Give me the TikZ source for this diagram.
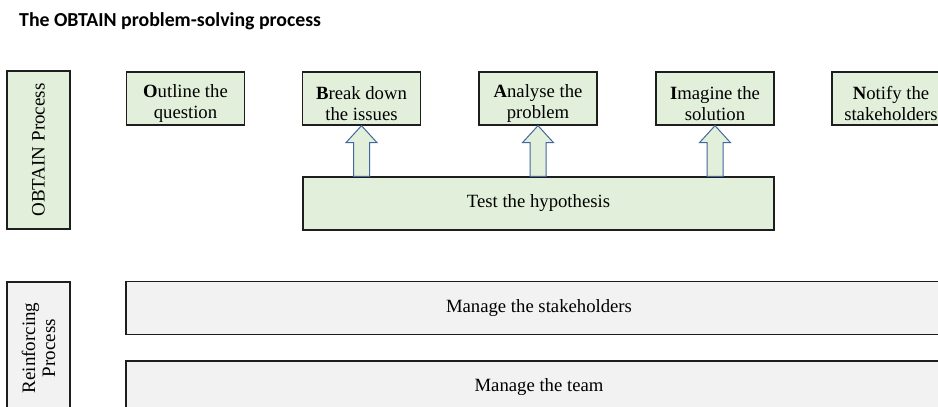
\documentclass[tikz,border=0pt]{standalone}
\usepackage{fontspec}
\setmainfont{Liberation Serif}
\newfontfamily\titlefont{Carlito}
\usetikzlibrary{calc}
\definecolor{stepgreen}{HTML}{E2EFDA}
\definecolor{supportgray}{HTML}{F2F2F2}
\definecolor{arrowblue}{HTML}{41689E}
\definecolor{edgegray}{HTML}{1E1E1E}
\tikzset{
  boxbase/.style={draw=edgegray, line width=1.3pt, inner sep=0pt},
  stepbox/.style={boxbase, fill=stepgreen, minimum width=118pt, minimum height=53pt},
  sidebox/.style={boxbase, minimum width=63pt},
  widebox/.style={boxbase, fill=supportgray, minimum width=826pt, minimum height=53pt},
  boxtext/.style={align=center, inner sep=0pt, font=\fontsize{18.7}{21}\selectfont},
  sidetext/.style={align=center, inner sep=0pt, rotate=90, font=\fontsize{19}{20}\selectfont},
  blockarr/.style={draw=arrowblue, line width=1pt, fill=stepgreen, line join=miter}
}
% upward block arrow from the hypothesis bar to the bottom of a step box
\newcommand{\uparrowto}[1]{%
  \draw[blockarr] let \p1=(#1.south), \p2=(test.north) in
    (\x1-8pt,\y2) -- (\x1-8pt,\y1-17pt) -- (\x1-15.5pt,\y1-17pt) -- (\x1,\y1)
    -- (\x1+15.5pt,\y1-17pt) -- (\x1+8pt,\y1-17pt) -- (\x1+8pt,\y2) -- cycle;}
\begin{document}
\begin{tikzpicture}[x=1pt,y=-1pt]
  \clip (0,0) rectangle (938,407);
  \fill[white] (0,0) rectangle (938,407);

  % title
  \node[anchor=base west, inner sep=0pt, font=\titlefont\bfseries\fontsize{19.8}{22}\selectfont]
    (title) at (19,26) {The OBTAIN problem-solving process};

  % OBTAIN process row
  \node[sidebox, fill=stepgreen, minimum height=158pt] (obtain) at (38.5,150) {};
  \node[sidetext] (obtain-t) at (obtain.center) {OBTAIN Process};

  \node[stepbox] (outline) at (185.5,98.5) {};
  \node[boxtext] (outline-t) at ([yshift=-5.5pt]outline.center) {\textbf{O}utline the\\question};
  \node[stepbox] (break) at (361.5,98.5) {};
  \node[boxtext] (break-t) at ([yshift=-5.5pt]break.center) {\textbf{B}reak down\\the issues};
  \node[stepbox] (analyse) at (538,98.5) {};
  \node[boxtext] (analyse-t) at ([yshift=-5.5pt]analyse.center) {\textbf{A}nalyse the\\problem};
  \node[stepbox] (imagine) at (715,98.5) {};
  \node[boxtext] (imagine-t) at ([yshift=-5.5pt]imagine.center) {\textbf{I}magine the\\solution};
  \node[stepbox] (notify) at (891,98.5) {};
  \node[boxtext] (notify-t) at ([yshift=-5.5pt]notify.center) {\textbf{N}otify the\\stakeholders};

  \node[stepbox, minimum width=471pt] (test) at (538.5,203.5) {};
  \node[boxtext] (test-t) at (test.center) {Test the hypothesis};

  \uparrowto{break}
  \uparrowto{analyse}
  \uparrowto{imagine}

  % reinforcing process rows
  \node[sidebox, fill=supportgray, minimum height=132pt] (reinforce) at (38.5,348) {};
  \node[sidetext] (reinforce-t) at (reinforce.center) {Reinforcing\\Process};

  \node[widebox] (stake) at (539,308) {};
  \node[boxtext] (stake-t) at (stake.center) {Manage the stakeholders};
  \node[widebox] (team) at (539,387.5) {};
  \node[boxtext] (team-t) at (team.center) {Manage the team};
\end{tikzpicture}
\end{document}
